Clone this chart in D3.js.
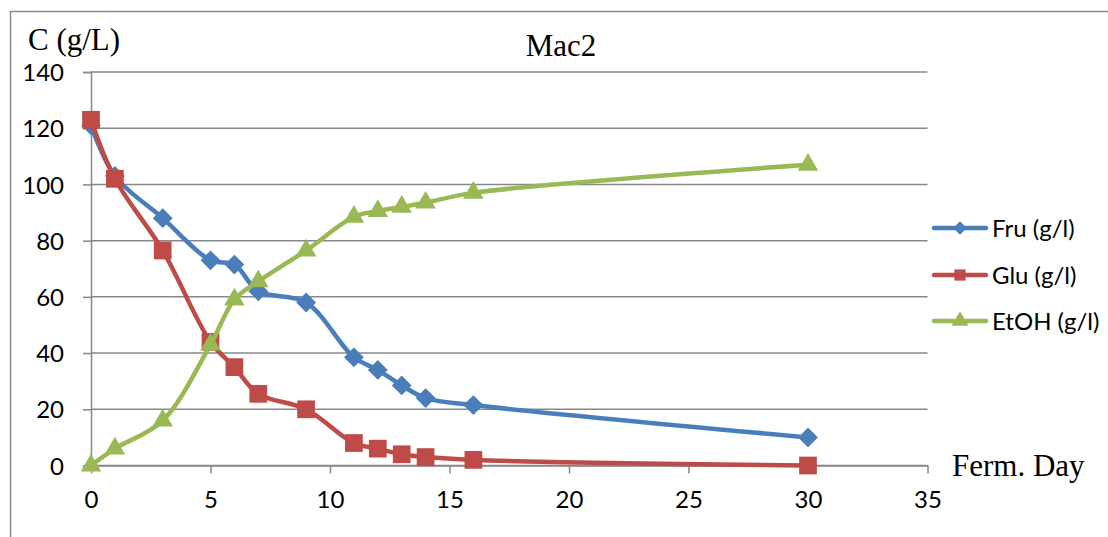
<!DOCTYPE html>
<html>
<head>
<meta charset="utf-8">
<script src="https://cdn.jsdelivr.net/npm/d3@7/dist/d3.min.js"></script>
<style>
  html, body { margin: 0; padding: 0; background: #fff; }
  svg { display: block; }
  .tick text { font-family: Lato, "Open Sans", sans-serif; fill: #000; }
</style>
</head>
<body>
<svg id="chart" width="1108" height="537"></svg>
<script>
// Fermentation days sampled
const days = [0, 1, 3, 5, 6, 7, 9, 11, 12, 13, 14, 16, 30];
// Concentrations in g/l
const fru  = [121, 103, 88, 73, 71.5, 62, 58, 38.5, 34, 28.5, 24, 21.5, 10];
const glu  = [123, 102, 76.5, 44, 35, 25.5, 20, 8, 6, 4, 3, 2, 0];
const etoh = [0, 6, 16, 43, 59, 65.5, 76.5, 88.5, 90.5, 92, 93.5, 97, 107];

const seriesNames = ["Fru (g/l)", "Glu (g/l)", "EtOH (g/l)"];
const xTicks = [0, 5, 10, 15, 20, 25, 30, 35];
const yTicks = [0, 20, 40, 60, 80, 100, 120, 140];

const series = [
  { name: seriesNames[0], values: fru,  color: "#4a7ebb", symbol: d3.symbolDiamond2,  size: 250, legendSize: 115 },
  { name: seriesNames[1], values: glu,  color: "#be4b48", symbol: d3.symbolSquare2,   size: 400, legendSize: 160 },
  { name: seriesNames[2], values: etoh, color: "#98b954", symbol: d3.symbolTriangle2, size: 300, legendSize: 200 }
];

const svg = d3.select("#chart");
const plotL = 91, plotR = 927.5, plotT = 72, plotB = 465.5;

const x = d3.scaleLinear().domain([0, 35]).range([plotL, plotR]);
const y = d3.scaleLinear().domain([0, 140]).range([plotB, plotT]);

const gridColor = "#878787";

// outer frame (top and left edges)
svg.append("path")
  .attr("d", `M10.5,537 L10.5,11.5 L1108,11.5`)
  .attr("fill", "none").attr("stroke", "#8c8c8c").attr("stroke-width", 1.5);

// horizontal gridlines
svg.append("g").selectAll("line").data(yTicks).join("line")
  .attr("x1", plotL).attr("x2", plotR)
  .attr("y1", d => y(d)).attr("y2", d => y(d))
  .attr("stroke", gridColor).attr("stroke-width", 1.5);

// y axis
const yAxis = svg.append("g").attr("transform", `translate(${plotL},0)`)
  .call(d3.axisLeft(y).tickValues(yTicks).tickSize(8).tickPadding(19));
yAxis.select(".domain").attr("stroke", gridColor).attr("stroke-width", 1.5);
yAxis.selectAll(".tick line").attr("stroke", gridColor).attr("stroke-width", 1.5);
yAxis.selectAll(".tick text").attr("font-size", 24).attr("dy", "0.36em");

// x axis
const xAxis = svg.append("g").attr("transform", `translate(0,${plotB})`)
  .call(d3.axisBottom(x).tickValues(xTicks).tickSize(8).tickPadding(17).tickSizeOuter(0));
xAxis.select(".domain").attr("stroke", gridColor).attr("stroke-width", 1.5);
xAxis.selectAll(".tick line").attr("stroke", gridColor).attr("stroke-width", 1.5);
xAxis.selectAll(".tick text").attr("font-size", 24);

// titles
const serif = "'Liberation Serif', 'Times New Roman', serif";
svg.append("text").attr("x", 561).attr("y", 56).attr("text-anchor", "middle")
  .attr("font-family", serif).attr("font-size", 31).text("Mac2");
svg.append("text").attr("x", 28).attr("y", 50)
  .attr("font-family", serif).attr("font-size", 31).text("C (g/L)");
svg.append("text").attr("x", 952).attr("y", 476)
  .attr("font-family", serif).attr("font-size", 31).text("Ferm. Day");

// series lines and markers
const line = d3.line()
  .x((d, i) => x(days[i]))
  .y(d => y(d))
  .curve(d3.curveCatmullRom.alpha(0.5));

series.forEach(s => {
  const g = svg.append("g");
  g.append("path")
    .attr("d", line(s.values))
    .attr("fill", "none").attr("stroke", s.color)
    .attr("stroke-width", 4.5).attr("stroke-linejoin", "round").attr("stroke-linecap", "round");
  g.selectAll("path.m").data(s.values).join("path").attr("class", "m")
    .attr("transform", (d, i) => `translate(${x(days[i])},${y(d)})`)
    .attr("d", d3.symbol(s.symbol, s.size)())
    .attr("fill", s.color);
});

// legend
const legendY = [228, 275, 321];
const lg = svg.append("g");
series.forEach((s, i) => {
  const row = lg.append("g").attr("transform", `translate(0,${legendY[i]})`);
  row.append("line").attr("x1", 934).attr("x2", 986)
    .attr("stroke", s.color).attr("stroke-width", 4.5).attr("stroke-linecap", "round");
  row.append("path").attr("transform", "translate(960,0)")
    .attr("d", d3.symbol(s.symbol, s.legendSize)())
    .attr("fill", s.color);
  row.append("text").attr("x", 992).attr("dy", "0.36em")
    .attr("font-family", "Lato, 'Open Sans', sans-serif").attr("font-size", 24)
    .text(s.name);
});
</script>
</body>
</html>
